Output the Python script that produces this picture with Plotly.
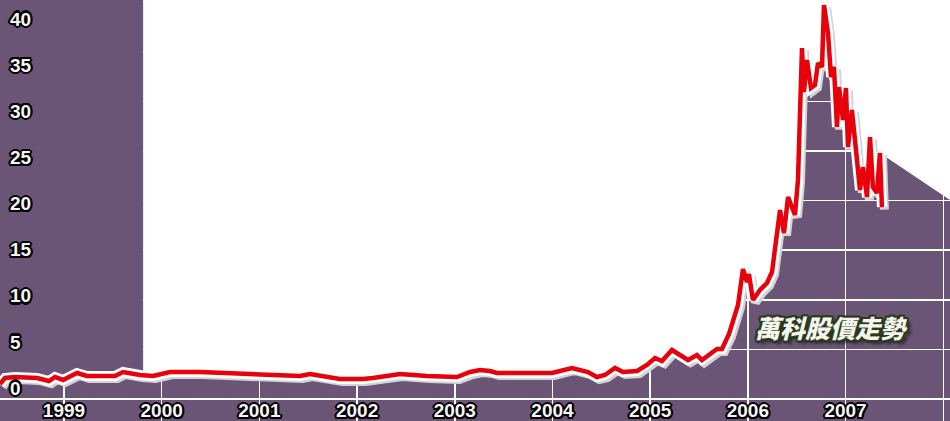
import plotly.graph_objects as go

# ---- data (decimal year, price) ----
YEARS = [1998.345, 1998.396, 1998.498, 1998.601, 1998.724, 1998.846, 1998.908, 1998.990,
         1999.133, 1999.235, 1999.522, 1999.604, 1999.696, 1999.778, 1999.911, 2000.085,
         2000.392, 2000.873, 2001.006, 2001.416, 2001.518, 2001.620, 2001.825, 2002.060,
         2002.163, 2002.439, 2002.715, 2003.023, 2003.156, 2003.258, 2003.360, 2003.432,
         2003.739, 2003.995, 2004.200, 2004.363, 2004.455, 2004.537, 2004.640, 2004.722,
         2004.865, 2004.967, 2005.049, 2005.121, 2005.223, 2005.305, 2005.387, 2005.479,
         2005.530, 2005.684, 2005.735, 2005.807, 2005.868, 2005.899, 2005.950, 2005.991,
         2006.011, 2006.052, 2006.124, 2006.196, 2006.247, 2006.277, 2006.329, 2006.370,
         2006.411, 2006.482, 2006.513, 2006.554, 2006.574, 2006.605, 2006.646, 2006.687,
         2006.718, 2006.759, 2006.779, 2006.820, 2006.851, 2006.881, 2006.912, 2006.933,
         2006.974, 2007.004, 2007.025, 2007.065, 2007.086, 2007.117, 2007.147, 2007.178,
         2007.219, 2007.250, 2007.280, 2007.321, 2007.352, 2007.372]
PRICES = [1.51, 2.12, 2.22, 2.22, 2.12, 1.81, 2.22, 1.92,
          2.62, 2.32, 2.32, 2.72, 2.52, 2.42, 2.32, 2.72,
          2.72, 2.52, 2.42, 2.32, 2.52, 2.32, 2.02, 2.02,
          2.12, 2.52, 2.32, 2.22, 2.72, 2.92, 2.82, 2.62,
          2.62, 2.62, 3.13, 2.72, 2.22, 2.42, 3.13, 2.72,
          2.82, 3.43, 4.13, 3.83, 4.94, 4.44, 3.93, 4.44,
          3.93, 5.04, 5.04, 6.55, 8.27, 9.48, 13.10, 11.79,
          12.60, 9.98, 10.99, 11.69, 12.80, 15.22, 19.05, 16.73,
          20.36, 18.55, 22.08, 35.38, 30.95, 34.17, 31.35, 31.65,
          33.87, 33.47, 39.72, 36.90, 32.46, 33.47, 27.42, 31.45,
          28.13, 31.35, 25.40, 29.13, 27.42, 24.09, 21.07, 23.39,
          20.36, 26.41, 21.37, 20.77, 24.80, 19.35]

YEAR_TICKS = [1999, 2000, 2001, 2002, 2003, 2004, 2005, 2006, 2007, 2008]
YEAR_LABELS = ["1999", "2000", "2001", "2002", "2003", "2004", "2005", "2006", "2007", ""]
PRICE_TICKS = [0, 5, 10, 15, 20, 25, 30, 35, 40]
PRICE_LABELS = ["0", "5", "10", "15", "20", "25", "30", "35", "40"]
TITLE = "萬科股價走勢"

# ---- styling / layout constants ----
X_RANGE = [1998.345, 2008.069]
Y_RANGE = [-2.218, 40.222]
Y2_RANGE = [-3.577, 42.06]
WHITE_START = 1999.81
DIAG_END = (2008.069, 20.06)
TOP = 45
PURPLE = "#6a5577"
RED = "#e8000b"


def outline(c, w):
    pts = [(w, 0), (-w, 0), (0, w), (0, -w), (w * .7, w * .7), (-w * .7, w * .7),
           (w * .7, -w * .7), (-w * .7, -w * .7)]
    return ", ".join(f"{a:.1f}px {b:.1f}px 0 {c}" for a, b in pts)


LABEL_SHADOW = outline("#000", 2.2)
TITLE_SHADOW = outline("#2b3a1c", 2.5) + ", 4px 4px 3px rgba(0,0,0,0.55)"


def interp(x):
    for i in range(1, len(YEARS)):
        if YEARS[i] >= x:
            t = (x - YEARS[i - 1]) / (YEARS[i] - YEARS[i - 1])
            return PRICES[i - 1] + t * (PRICES[i] - PRICES[i - 1])
    return PRICES[-1]


y_start = interp(WHITE_START)

# purple cover above line on the left block
left_x = [X_RANGE[0]] + [x for x in YEARS if x < WHITE_START] + [WHITE_START, WHITE_START, X_RANGE[0]]
left_y = [PRICES[0]] + [p for x, p in zip(YEARS, PRICES) if x < WHITE_START] + [y_start, TOP, TOP]

# white area above the line
body = [(x, p) for x, p in zip(YEARS[:-1], PRICES[:-1]) if x > WHITE_START]
white_x = [WHITE_START] + [b[0] for b in body] + [DIAG_END[0], DIAG_END[0], WHITE_START]
white_y = [y_start] + [b[1] for b in body] + [DIAG_END[1], TOP, TOP]

fig = go.Figure()
fig.add_trace(go.Scatter(x=left_x, y=left_y, fill="toself", fillcolor=PURPLE,
                         line=dict(width=0), mode="lines", hoverinfo="skip"))
fig.add_trace(go.Scatter(x=white_x, y=white_y, fill="toself", fillcolor="white",
                         line=dict(width=0), mode="lines", hoverinfo="skip"))
# drop shadow (offset a few pixels right/down)
dx = 2.5 / 97.7
dy = 2.5 / 9.92
fig.add_trace(go.Scatter(x=[x + dx for x in YEARS], y=[p - dy for p in PRICES], mode="lines",
                         line=dict(color="#d6d3d8", width=9), hoverinfo="skip"))
fig.add_trace(go.Scatter(x=YEARS, y=PRICES, mode="lines",
                         line=dict(color="white", width=10), hoverinfo="skip"))
fig.add_trace(go.Scatter(x=YEARS, y=PRICES, mode="lines",
                         line=dict(color=RED, width=4.5), name="萬科"))
# carriers for the label-only axes
fig.add_trace(go.Scatter(x=[X_RANGE[0]], y=[0], yaxis="y2", mode="markers",
                         marker=dict(opacity=0), hoverinfo="skip"))
fig.add_trace(go.Scatter(x=[X_RANGE[0]], y=[0], xaxis="x2", mode="markers",
                         marker=dict(opacity=0), hoverinfo="skip"))

label_font = dict(family="Liberation Sans, Arial, sans-serif", size=19, color="#f6f6f6",
                  weight="bold", shadow=LABEL_SHADOW)

fig.update_layout(
    width=950, height=421,
    margin=dict(l=0, r=0, t=0, b=0, pad=0, autoexpand=False),
    paper_bgcolor=PURPLE, plot_bgcolor=PURPLE,
    showlegend=False,
    xaxis=dict(range=X_RANGE, tickvals=YEAR_TICKS, showticklabels=False,
               showgrid=True, gridcolor="white", gridwidth=1.5, zeroline=False,
               showline=False, ticks="", automargin=False, fixedrange=True),
    xaxis2=dict(range=X_RANGE, overlaying="x", anchor="free", position=0.057,
                side="bottom", tickvals=YEAR_TICKS, ticktext=YEAR_LABELS,
                showgrid=False, zeroline=False, showline=False, ticks="",
                automargin=False, tickfont=label_font, fixedrange=True),
    yaxis=dict(range=Y_RANGE, tickvals=PRICE_TICKS, showticklabels=False,
               showgrid=True, gridcolor="white", gridwidth=1.5, zeroline=False,
               showline=False, ticks="", fixedrange=True, automargin=False),
    yaxis2=dict(range=Y2_RANGE, overlaying="y", side="left", anchor="x",
                tickvals=PRICE_TICKS, ticktext=PRICE_LABELS, showgrid=False,
                zeroline=False, showline=False, ticks="", ticklabelposition="inside",
                ticklabelstandoff=7, automargin=False, tickfont=label_font, fixedrange=True),
    annotations=[dict(text=TITLE, xref="paper", yref="paper", x=0.875, y=0.2233,
                      xanchor="center", yanchor="middle", showarrow=False,
                      font=dict(family="Noto Sans CJK TC", size=25, color="#f3f5ee",
                                weight=900, style="italic", shadow=TITLE_SHADOW))],
)

fig.write_html("out.html", config={"displayModeBar": False, "staticPlot": True},
               post_script="document.body.style.margin='0';document.body.style.overflow='hidden';")
